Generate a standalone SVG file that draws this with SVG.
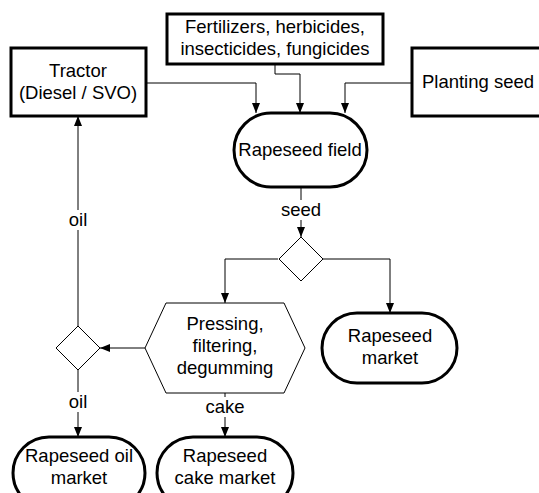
<svg xmlns="http://www.w3.org/2000/svg" width="539" height="493" viewBox="0 0 539 493">
<defs>
<marker id="ah" viewBox="0 0 10 10" refX="10" refY="5" markerWidth="10" markerHeight="10" markerUnits="userSpaceOnUse" orient="auto">
<path d="M0,1 L10,5 L0,9 z" fill="#000"/>
</marker>
<style>
text{font-family:"Liberation Sans",Arial,sans-serif;font-size:18.5px;fill:#000;text-anchor:middle}
.box{fill:#fff;stroke:#000;stroke-width:3}
.thin{fill:#fff;stroke:#000;stroke-width:1}
.c{fill:none;stroke:#000;stroke-width:1;marker-end:url(#ah)}
.lbl{fill:#fff;stroke:none}
</style>
</defs>
<rect width="539" height="493" fill="#fff"/>
<g id="connectors">
<path class="c" d="M146,83 H256 V113"/>
<path class="c" d="M275,64 V74 H300 V113"/>
<path class="c" d="M412,83 H345 V113"/>
<path class="c" d="M301,187 V237"/>
<path class="c" d="M278,259 H225 V303"/>
<path class="c" d="M323,259 H390 V313"/>
<path class="c" d="M145,348 H100"/>
<path class="c" d="M78,326 V116"/>
<path class="c" d="M78,370 V437"/>
<path class="c" d="M225,393 V437"/>
<rect class="lbl" x="280" y="200" width="42" height="20"/>
<text x="301" y="216">seed</text>
<rect class="lbl" x="64" y="210" width="28" height="20"/>
<text x="78" y="226">oil</text>
<rect class="lbl" x="64" y="392" width="28" height="20"/>
<text x="78" y="408">oil</text>
<rect class="lbl" x="203" y="397" width="44" height="20"/>
<text x="225" y="413">cake</text>
</g>
<g id="tractor">
<rect class="box" x="11" y="48" width="135" height="68"/>
<text x="78" y="77">Tractor</text>
<text x="78" y="99">(Diesel / SVO)</text>
</g>
<g id="fertilizers">
<rect class="box" x="167" y="14" width="216" height="50"/>
<text x="275" y="33">Fertilizers, herbicides,</text>
<text x="275" y="55">insecticides, fungicides</text>
</g>
<g id="planting-seed">
<rect class="box" x="412" y="48" width="140" height="68"/>
<text x="478" y="88">Planting seed</text>
</g>
<g id="rapeseed-field">
<rect class="box" x="234" y="113" width="133" height="74" rx="37" ry="37"/>
<text x="300" y="156">Rapeseed field</text>
</g>
<g id="decision-seed">
<polygon class="thin" points="301,237 323,259 301,281 279,259"/>
</g>
<g id="rapeseed-market">
<rect class="box" x="322" y="313" width="135" height="70" rx="35" ry="35"/>
<text x="390" y="342">Rapeseed</text>
<text x="390" y="364">market</text>
</g>
<g id="pressing">
<polygon class="thin" points="145,348 166,303 284,303 305,348 284,393 166,393"/>
<text x="225" y="330">Pressing,</text>
<text x="225" y="352">filtering,</text>
<text x="225" y="374">degumming</text>
</g>
<g id="decision-oil">
<polygon class="thin" points="78,326 100,348 78,370 56,348"/>
</g>
<g id="oil-market">
<rect class="box" x="13" y="437" width="132" height="72" rx="36" ry="36"/>
<text x="79" y="462">Rapeseed oil</text>
<text x="79" y="484">market</text>
</g>
<g id="cake-market">
<rect class="box" x="157" y="437" width="136" height="72" rx="36" ry="36"/>
<text x="225" y="462">Rapeseed</text>
<text x="225" y="484">cake market</text>
</g>
</svg>
